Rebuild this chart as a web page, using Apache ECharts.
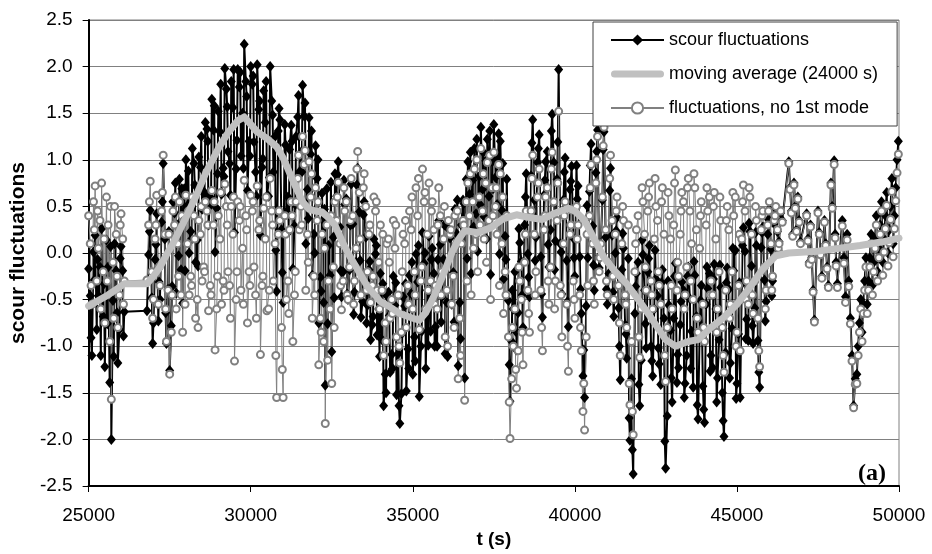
<!DOCTYPE html>
<html>
<head>
<meta charset="utf-8">
<title>scour fluctuations</title>
<script src="https://cdn.jsdelivr.net/npm/echarts@6/dist/echarts.min.js"></script>
<style>
  html, body { margin: 0; padding: 0; background: #fff; }
  #chart { width: 932px; height: 554px; }
</style>
</head>
<body>
<div id="chart"></div>
<script>
// sample times (s), shared by the two fluctuation series
const times = [
  25000, 25100, 25200, 25300, 25400, 25500, 25600, 25700, 25800, 25900, 26000, 26100,
  26800, 26900, 27000, 27100, 27200, 27300, 27400, 27500, 27600, 27700, 27800, 27900, 28000,
  28100, 28200, 28300, 28400, 28500, 28600, 28700, 28800, 28900, 29000, 29100, 29200, 29300,
  29400, 29500, 29600, 29700, 29800, 29900, 30000, 30100, 30200, 30300, 30400, 30500, 30600, 30700,
  30800, 30900, 31000, 31100, 31200, 31300, 31400,
  31500, 31600, 31700, 31800, 31900, 32000, 32100, 32200, 32300, 32400, 32500, 32600,
  32700, 32800, 32900, 33000, 33100, 33200, 33300, 33400, 33500, 33600, 33700, 33800, 33900, 34000,
  34100, 34200, 34300, 34400, 34500, 34600, 34700, 34800, 34900, 35000, 35100, 35200, 35300, 35400, 35500,
  35600, 35700, 35800, 35900, 36000, 36100, 36200, 36300, 36400, 36500, 36600,
  36700, 36800, 36900, 37000, 37100, 37200, 37300, 37400, 37500, 37600, 37700, 37800, 37900,
  38000, 38100, 38200, 38300, 38400, 38500,
  38600, 38700, 38800, 38900, 39000, 39100, 39200, 39300, 39400, 39500, 39600, 39700, 39800, 39900, 40000, 40100, 40200,
  40300, 40400, 40500, 40600, 40700, 40800, 40900, 41000, 41100, 41200,
  41300, 41400, 41500, 41600, 41700, 41800, 41900, 42000, 42100, 42200, 42300, 42400, 42500, 42600, 42700, 42800, 42900,
  43000, 43100, 43200, 43300, 43400, 43500, 43600, 43700, 43800, 43900, 44000, 44100, 44200, 44300, 44400, 44500,
  44600, 44700, 44800, 44900, 45000, 45100, 45200, 45300, 45400, 45500, 45600, 45700, 45800, 45900, 46000, 46100, 46200,
  46300, 46400,
  46600, 46640, 46680, 46720, 46760, 46800, 46840, 46880, 46920, 46960,
  47150, 47190, 47230, 47270, 47310, 47350, 47390,
  47500, 47540, 47580, 47620, 47700, 47740, 47780, 47820, 47900, 47940,
  48000, 48030, 48060, 48100,
  48250, 48300, 48350, 48400, 48450, 48500, 48550, 48600, 48650,
  48700, 48740, 48780, 48820, 48860, 48900, 48940, 48980, 49020, 49060, 49100, 49140,
  49180, 49220, 49260, 49300, 49340, 49380, 49420, 49460, 49500, 49540, 49580, 49620,
  49660, 49700, 49740, 49780, 49820, 49860, 49900, 49940, 49980
]

// scour fluctuations
const scour = [
  -0.17, -1.10, 0.19, -0.46, 0.26, -1.22, -0.15, -2.00, 0.10, -1.18, 0.07, -0.63,
  -0.62, 0.46, -0.75, 0.42, -0.50, 0.96, -0.97, -1.26, 0.55, -0.43, 0.79, -0.54, 1.00,
  0.00, 1.12, -0.10, 1.03, 0.47, 1.40, 0.30, 1.65, 0.01, 1.52, 0.63, 1.98, 1.09,
  1.84, 0.22, 1.97, 1.04, 2.24, 0.67, 2.00, 1.19, 2.02, 0.19, 1.74, 0.61, 2.00, 0.87,
  -0.41, 1.43, -0.53, 0.44, 1.11, -0.17, 1.25,
  0.87, 1.80, 0.10, 1.45, -0.24, 1.15, -0.75, 0.64, -1.42, 0.08, -1.06, 0.85,
  0.98, -0.47, 0.52, -0.50, 0.74, -0.42, 0.91, -0.69, 0.55, -0.56, -0.93, 0.15, -0.88, -0.22,
  -1.64, -0.46, -1.28, -0.25, -1.52, -1.83, -0.47, -1.48, -0.24, -1.30, -0.01, -1.54, 0.22, -1.24, 0.18,
  0.05, -0.79, 0.35, -0.47, -1.08, 0.26, -0.55, 0.47, -1.21, 0.30, -1.34,
  0.98, -0.22, 1.12, 0.02, 1.35, 0.39, 1.22, -0.23, 1.38, 0.52, 1.20, -0.28, 0.79,
  -1.59, -0.60, -1.04, 0.11, -0.80, 0.85,
  -0.47, 1.43, 0.17, 1.27, -0.69, 0.98, -0.15, 1.49, 0.13, 1.97, -0.44, 1.02, -0.79, 0.93, -0.25, 0.72, -0.65,
  -1.55, -0.05, 1.17, -0.40, 1.32, 0.10, 1.30, -0.55, 0.91, -0.68,
  0.38, -1.36, 0.05, -1.13, -2.01, -2.37, -0.22, -1.64, -0.02, -1.02, 0.08, -1.32, -0.28, -1.19, -0.18, -2.31, -0.56,
  -1.60, -0.11, -1.23, -0.31, -1.40, -0.15, -0.84, -0.24, -1.78, -0.35, -1.82, -0.38, -1.10, -0.12, -1.34, -0.37,
  -1.97, -0.16, -1.18, -0.19, -1.40, -1.55, 0.27, -0.71, 0.23, -0.97, 0.08, -1.44, 0.28, -0.52, 0.47, -0.30, 0.47,
  0.12, 0.35,
  0.98, 0.70, 0.45, 0.20, 0.75, 0.50, 0.25, 0.60, 0.35, 0.12,
  0.42, 0.15, -0.10, 0.30, -0.05, -0.40, -0.72,
  0.45, 0.22, 0.00, -0.25, 0.35, 0.10, -0.15, -0.35, 0.75, 0.50,
  0.99, 0.20, -0.10, -0.33,
  0.35, -0.05, -0.47, 0.20, -0.30, -0.70, -1.10, -1.64, -1.35,
  -1.30, -1.00, -0.75, -0.50, -0.85, -0.55, -0.30, -0.05, -0.55, -0.30, -0.05, 0.20,
  -0.35, -0.10, 0.15, 0.40, -0.20, 0.05, 0.30, 0.55, -0.10, 0.15, 0.40, 0.65,
  0.00, 0.25, 0.50, 0.80, 0.10, 0.40, 0.70, 1.00, 1.20
]

// fluctuations, no 1st mode
const noMode = [
  0.40, -0.55, 0.72, 0.05, 0.75, -0.75, 0.30, -1.57, 0.50, -0.80, 0.42, -0.30,
  -0.29, 0.77, -0.50, 0.62, -0.35, 1.05, -0.95, -1.30, 0.45, -0.60, 0.55, -0.85, 0.62,
  -0.45, 0.60, -0.70, 0.35, -0.30, 0.55, -0.62, 0.67, -1.04, 0.40, -0.55, 0.74, -0.20,
  0.50, -1.16, 0.55, -0.40, 0.78, -0.75, 0.62, -0.15, 0.72, -1.09, 0.48, -0.62, 0.80, -0.30,
  -1.55, 0.35, -1.55, -0.50, 0.25, -0.95, 0.55,
  0.25, 1.25, -0.40, 0.98, -0.70, 0.70, -1.20, 0.20, -1.83, -0.30, -1.40, 0.55,
  0.76, -0.61, 0.45, -0.50, 0.80, -0.30, 1.09, -0.45, 0.85, -0.20, -0.53, 0.60, -0.40, 0.30,
  -1.10, 0.10, -0.70, 0.35, -0.90, -1.18, 0.20, -0.80, 0.45, -0.60, 0.70, -0.82, 0.90, -0.60, 0.75,
  0.55, -0.35, 0.70, -0.20, -0.90, 0.35, -0.55, 0.40, -1.35, 0.10, -1.58,
  0.75, -0.45, 0.90, -0.20, 1.12, 0.15, 0.97, -0.50, 1.08, 0.20, 0.85, -0.65, 0.40,
  -1.99, -1.00, -1.45, -0.30, -1.20, 0.45,
  -0.85, 1.05, -0.20, 0.90, -1.05, 0.60, -0.55, 1.08, -0.30, 1.52, -0.90, 0.55, -1.27, 0.46, -0.70, 0.30, -1.05,
  -1.90, -0.35, 0.95, -0.55, 1.25, 0.10, 1.35, -0.45, 1.05, -0.50,
  0.60, -1.10, 0.35, -0.80, -1.63, -1.95, 0.25, -1.12, 0.55, -0.40, 0.75, -0.60, 0.50, -0.35, 0.70, -1.38, 0.40,
  -0.60, 0.89, -0.25, 0.65, -0.45, 0.80, 0.10, 0.70, -0.85, 0.55, -0.95, 0.45, -0.30, 0.65, -0.60, 0.35,
  -1.28, 0.50, -0.55, 0.40, -0.85, -1.05, 0.73, -0.30, 0.60, -0.65, 0.35, -1.22, 0.45, -0.40, 0.55, -0.25, 0.50,
  0.10, 0.33,
  0.96, 0.68, 0.43, 0.18, 0.73, 0.48, 0.23, 0.58, 0.33, 0.10,
  0.40, 0.13, -0.12, 0.28, -0.07, -0.42, -0.74,
  0.43, 0.20, -0.02, -0.27, 0.33, 0.08, -0.17, -0.37, 0.73, 0.48,
  0.95, 0.16, -0.14, -0.37,
  0.29, -0.11, -0.53, 0.14, -0.36, -0.76, -1.16, -1.66, -1.41,
  -1.40, -1.10, -0.85, -0.60, -0.95, -0.65, -0.40, -0.15, -0.65, -0.40, -0.15, 0.10,
  -0.45, -0.20, 0.05, 0.30, -0.30, -0.05, 0.20, 0.45, -0.24, 0.01, 0.26, 0.51,
  -0.14, 0.11, 0.36, 0.66, -0.04, 0.26, 0.56, 0.86, 1.06
]

// extra samples at +50 s (dense part of the record)
const midTimes = [
  25050, 25150, 25250, 25350, 25450, 25550, 25650, 25750, 25850, 25950, 26050,
  26850, 26950, 27050, 27150, 27250, 27350, 27450, 27550, 27650, 27750, 27850, 27950,
  28050, 28150, 28250, 28350, 28450, 28550, 28650, 28750, 28850, 28950, 29050, 29150, 29250,
  29350, 29450, 29550, 29650, 29750, 29850, 29950, 30050, 30150, 30250, 30350, 30450, 30550, 30650, 30750,
  30850, 30950, 31050, 31150, 31250, 31350,
  31450, 31550, 31650, 31750, 31850, 31950, 32050, 32150, 32250, 32350, 32450, 32550,
  32650, 32750, 32850, 32950, 33050, 33150, 33250, 33350, 33450, 33550, 33650, 33750, 33850, 33950,
  34050, 34150, 34250, 34350, 34450, 34550, 34650, 34750, 34850, 34950, 35050, 35150, 35250, 35350, 35450,
  35550, 35650, 35750, 35850, 35950, 36050, 36150, 36250, 36350, 36450, 36550, 36650,
  36750, 36850, 36950, 37050, 37150, 37250, 37350, 37450, 37550, 37650, 37750, 37850,
  37950,
  38050, 38150, 38250, 38350, 38450,
  38550,
  38650, 38750, 38850, 38950, 39050, 39150, 39250, 39350, 39450, 39550, 39650, 39750, 39850, 39950, 40050, 40150,
  40250,
  40350, 40450, 40550, 40650, 40750, 40850, 40950, 41050, 41150,
  41250,
  41350, 41450, 41550, 41650, 41750, 41850, 41950, 42050, 42150, 42250, 42350, 42450, 42550, 42650, 42750, 42850,
  42950,
  43050, 43150, 43250, 43350, 43450, 43550, 43650, 43750, 43850, 43950, 44050, 44150, 44250, 44350, 44450,
  44550,
  44650, 44750, 44850, 44950, 45050, 45150, 45250, 45350, 45450, 45550, 45650, 45750, 45850, 45950, 46050, 46150,
  46250, 46350
]
const midScour = [
  -0.46, 0.01, -0.82, -0.15, -0.68, 0.14, -1.39, -0.51, -0.19, -0.82, -0.19,
  -0.02, -0.48, -0.07, -0.73, 0.33, 0.15, -0.39, -0.78, 0.43, 0.30, -0.18, 0.69,
  0.51, 0.23, 0.96, 0.14, 0.92, 0.66, 1.33, 0.60, 1.32, 0.48, 1.30, 0.91, 1.76,
  0.96, 1.56, 0.90, 1.78, 1.50, 1.84, 1.20, 1.81, 0.87, 1.54, 0.92, 1.40, 0.61, 1.63, 1.25,
  1.31, 0.25, 1.38, 0.60, 1.37, 0.29,
  1.46, 1.08, 1.47, 0.68, 1.06, 0.20, 0.80, -0.26, -0.53, 0.69, -0.24, 0.17,
  0.61, 0.28, -0.20, 0.58, -0.18, 0.31, -0.10, 0.44, -0.52, 0.17, -0.18, -0.77, -0.01, -0.60,
  -0.93, -1.30, -0.42, -1.09, -0.56, -1.08, -1.51, -0.57, -1.03, -0.44, -0.90, -0.31, -1.00, -0.11, -0.40,
  -0.84, -0.22, -1.00, 0.09, -0.07, -0.53, 0.16, -0.21, 0.21, -0.53, 0.57, 0.79,
  0.63, 0.78, 0.42, 0.82, 0.68, 0.99, 0.61, 0.98, 0.81, 1.28, 0.46, 0.18,
  -0.51,
  -0.95, -0.20, -0.64, -0.09, 0.30,
  -0.01,
  0.83, 0.57, 0.97, -0.04, 0.62, 1.09, 0.25, 0.97, 0.79, 0.10, 0.57, -0.08, 0.68, 0.16, 0.94, -0.04,
  -1.32,
  -0.57, 0.66, 0.29, 0.86, -0.16, 0.57, 0.17, -0.22, 0.19,
  0.00,
  -0.59, -0.18, -0.77, -0.06, -1.35, -0.65, -0.10, -1.15, -0.40, -0.20, -1.00, -0.60, -0.46, -1.41, -0.70, -1.75,
  -0.83,
  -0.70, -1.39, -0.77, -0.40, -1.10, -0.49, -1.44, -0.68, -0.86, -1.43, -0.55, -0.22, -1.23, -0.60, -0.93,
  -1.50,
  -1.07, -0.39, -0.81, 0.03, -0.87, -0.33, 0.02, -0.94, -0.14, -0.59, -0.94, 0.06, -0.29, 0.20, 0.04, 0.31,
  0.23, 0.43
]
const midNoMode = [
  0.10, 0.55, -0.30, 0.35, -0.20, 0.60, -0.95, -0.10, 0.20, -0.45, 0.15,
  0.30, -0.20, 0.15, -0.55, 0.45, 0.20, -0.40, -0.85, 0.30, 0.10, -0.45, 0.35,
  0.10, -0.25, 0.40, -0.50, 0.20, -0.15, 0.45, -0.35, 0.30, -0.60, 0.15, -0.30, 0.50,
  -0.35, 0.20, -0.50, 0.35, 0.05, 0.40, -0.20, 0.45, -0.45, 0.25, -0.35, 0.15, -0.60, 0.45, 0.10,
  0.20, -0.80, 0.40, -0.30, 0.55, -0.45,
  0.80, 0.50, 0.95, 0.20, 0.60, -0.25, 0.35, -0.70, -0.95, 0.30, -0.60, -0.15,
  0.35, 0.10, -0.30, 0.55, -0.15, 0.40, 0.05, 0.65, -0.25, 0.50, 0.20, -0.35, 0.45, -0.10,
  -0.40, -0.75, 0.15, -0.50, 0.05, -0.45, -0.85, 0.10, -0.35, 0.25, -0.20, 0.40, -0.30, 0.55, 0.20,
  -0.30, 0.25, -0.60, 0.40, 0.15, -0.40, 0.20, -0.25, 0.10, -0.70, 0.35, 0.55,
  0.40, 0.55, 0.20, 0.60, 0.45, 0.75, 0.35, 0.70, 0.50, 0.95, 0.10, -0.20,
  -0.90,
  -1.35, -0.60, -1.05, -0.50, -0.10,
  -0.40,
  0.45, 0.20, 0.60, -0.40, 0.25, 0.70, -0.15, 0.55, 0.35, -0.35, 0.10, -0.55, 0.20, -0.30, 0.50, -0.45,
  -1.70,
  -0.90, 0.40, 0.10, 0.75, -0.20, 0.60, 0.25, -0.10, 0.35,
  0.20,
  -0.35, 0.10, -0.45, 0.30, -0.95, -0.20, 0.40, -0.60, 0.20, 0.45, -0.30, 0.15, 0.35, -0.55, 0.20, -0.80,
  0.15,
  0.30, -0.40, 0.20, 0.55, -0.15, 0.45, -0.50, 0.25, 0.05, -0.55, 0.30, 0.60, -0.45, 0.15, -0.20,
  -0.80,
  -0.40, 0.25, -0.20, 0.60, -0.35, 0.15, 0.45, -0.55, 0.20, -0.30, -0.70, 0.25, -0.15, 0.30, 0.10, 0.35,
  0.25, 0.45
]

// extra samples at +75 s (dense part of the record)
const qTimes = [
  25075, 25175, 25275, 25375, 25475, 25575, 25675, 25775, 25875, 25975, 26075,
  26875, 26975, 27075, 27175, 27275, 27375, 27475, 27575, 27675, 27775, 27875, 27975,
  28075, 28175, 28275, 28375, 28475, 28575, 28675, 28775, 28875, 28975,
  29075, 29175, 29275, 29375, 29475, 29575, 29675, 29775, 29875, 29975,
  30075, 30175, 30275, 30375, 30475, 30575, 30675, 30775, 30875, 30975,
  31075, 31175, 31275, 31375, 31475, 31575, 31675, 31775, 31875, 31975,
  32075, 32175, 32275, 32375, 32475, 32575, 32675, 32775, 32875, 32975,
  33075, 33175, 33275, 33375, 33475, 33575, 33675, 33775, 33875, 33975,
  34075, 34175, 34275, 34375, 34475, 34575, 34675, 34775, 34875, 34975,
  35075, 35175, 35275, 35375, 35475, 35575, 35675, 35775, 35875, 35975,
  36075, 36175, 36275, 36375, 36475, 36575, 36675, 36775, 36875, 36975,
  37075, 37175, 37275, 37375, 37475, 37575, 37675, 37775, 37875, 37975,
  38075, 38175, 38275, 38375, 38475, 38575, 38675, 38775, 38875, 38975,
  39075, 39175, 39275, 39375, 39475, 39575, 39675, 39775, 39875, 39975,
  40075, 40175, 40275, 40375, 40475, 40575, 40675, 40775, 40875, 40975,
  41075, 41175, 41275, 41375, 41475, 41575, 41675, 41775, 41875, 41975,
  42075, 42175, 42275, 42375, 42475, 42575, 42675, 42775, 42875, 42975,
  43075, 43175, 43275, 43375, 43475, 43575, 43675, 43775, 43875, 43975,
  44075, 44175, 44275, 44375, 44475, 44575, 44675, 44775, 44875, 44975,
  45075, 45175, 45275, 45375, 45475, 45575, 45675, 45775, 45875, 45975,
  46075, 46175, 46275
]
const qScour = [
  -0.91, -0.29, -0.07, -1.10, -0.33, -0.76, 0.07, -1.11, -0.64, -0.06, -0.89,
  0.23, -0.97, 0.09, -0.31, 0.55, -0.64, 0.23, -0.36, 0.75, -0.03, 0.69, -0.19,
  0.88, 0.15, 0.73, -0.14, 1.25, 0.63, 1.20, 0.52, 1.58, 0.85,
  1.81, 0.82, 1.57, 0.62, 1.97, 1.21, 1.94, 0.91, 1.68, 1.04,
  1.90, 0.61, 1.63, 1.01, 1.84, 0.81, 1.48, 0.03, 1.55, -0.21,
  1.16, 0.23, 1.20, 0.52, 1.69, 0.87, 1.61, 0.37, 1.31, 0.00,
  1.00, -0.41, 0.47, -0.76, 0.76, -0.48, 0.84, -0.19, 0.78, -0.44,
  0.30, -0.66, 0.73, -0.08, 0.41, -0.75, -0.09, -0.68, 0.08, -1.11,
  -0.33, -1.50, -0.67, -1.24, -0.32, -1.64, -0.86, -0.33, -1.24, -0.10,
  -1.16, 0.08, -0.84, 0.00, -0.99, -0.07, -1.00, -0.07, -0.74, 0.30,
  -1.11, 0.23, -0.74, 0.57, -0.92, 0.53, -0.06, 1.08, 0.28, 1.22,
  0.52, 1.08, 0.15, 1.31, 0.69, 1.02, -0.01, 0.96, -0.07, -1.20,
  -0.40, -0.84, 0.26, -0.45, 0.60, -0.26, 1.18, -0.08, 1.12, -0.44,
  0.78, 0.09, 1.31, -0.18, 1.19, 0.01, 0.87, -0.52, 0.77, -0.05,
  0.58, -0.39, -1.04, 0.51, 0.94, -0.13, 1.09, -0.03, 1.11, -0.39,
  0.67, -0.42, 0.24, -1.00, 0.21, -0.87, -1.77, -2.11, -0.36, -1.41,
  0.14, -0.76, -0.06, -1.16, 0.03, -1.02, -0.32, -2.02, -0.30, -1.34,
  -0.25, -1.09, -0.52, -1.55, -0.25, -1.24, -0.09, -1.63, -0.51, -1.68,
  -0.15, -1.27, -0.28, -1.60, -0.13, -1.80, -0.32, -1.34, 0.05, -1.56,
  -0.32, 0.08, -0.92, 0.32, -0.78, 0.22, -1.28, 0.22, -0.73, 0.36,
  -0.46, 0.36, 0.03
]
const qNoMode = [
  -0.35, 0.25, 0.45, -0.60, 0.15, -0.30, 0.50, -0.70, -0.25, 0.30, -0.55,
  0.55, -0.70, 0.30, -0.15, 0.65, -0.60, 0.20, -0.45, 0.60, -0.25, 0.40, -0.55,
  0.45, -0.35, 0.15, -0.80, 0.50, -0.20, 0.30, -0.45, 0.55, -0.25,
  0.65, -0.40, 0.30, -0.70, 0.60, -0.20, 0.50, -0.55, 0.25, -0.35,
  0.55, -0.70, 0.35, -0.25, 0.60, -0.40, 0.30, -1.10, 0.45, -1.25,
  0.20, -0.65, 0.40, -0.20, 1.05, 0.30, 1.10, -0.10, 0.85, -0.45,
  0.55, -0.85, 0.05, -1.15, 0.40, -0.80, 0.60, -0.35, 0.70, -0.45,
  0.35, -0.55, 0.90, 0.15, 0.70, -0.40, 0.30, -0.25, 0.55, -0.60,
  0.20, -0.95, -0.10, -0.65, 0.30, -1.00, -0.20, 0.35, -0.55, 0.60,
  -0.45, 0.80, -0.15, 0.65, -0.40, 0.45, -0.55, 0.30, -0.45, 0.50,
  -1.00, 0.25, -0.80, 0.45, -1.10, 0.30, -0.30, 0.85, 0.05, 1.00,
  0.30, 0.85, -0.10, 1.05, 0.40, 0.70, -0.35, 0.60, -0.45, -1.60,
  -0.80, -1.25, -0.15, -0.85, 0.20, -0.65, 0.80, -0.45, 0.75, -0.80,
  0.40, -0.30, 0.90, -0.60, 0.75, -0.45, 0.40, -1.00, 0.30, -0.50,
  0.15, -0.80, -1.40, 0.20, 0.70, -0.30, 1.00, -0.05, 1.15, -0.30,
  0.80, -0.25, 0.45, -0.75, 0.50, -0.55, -1.40, -1.70, 0.10, -0.90,
  0.70, -0.15, 0.60, -0.45, 0.80, -0.20, 0.55, -1.10, 0.65, -0.35,
  0.75, -0.10, 0.45, -0.60, 0.70, -0.30, 0.85, -0.70, 0.40, -0.80,
  0.70, -0.45, 0.50, -0.85, 0.60, -1.10, 0.35, -0.70, 0.65, -1.00,
  0.20, 0.55, -0.50, 0.70, -0.45, 0.50, -1.05, 0.40, -0.60, 0.45,
  -0.40, 0.40, 0.05
]

// moving average (24000 s)
const avgTimes = [
  25000, 25300, 25600, 25900, 26100, 26800, 27000, 27200, 27400, 27600, 27800, 28000,
  28300, 28600, 29000, 29300, 29600, 29800, 30000, 30200, 30500, 30800, 31000, 31200, 31400,
  31600, 31800, 32000, 32200, 32400, 32600, 32800, 33000, 33300, 33600, 34000, 34300, 34600,
  35000, 35200, 35400, 35600, 35800, 36000, 36200, 36400, 36600, 37000, 37400, 37800,
  38200, 38600, 39000, 39400, 39800, 40000, 40300, 40600, 40900, 41200, 41600, 42000,
  42400, 42800, 43100, 43500, 43800, 44200, 44600, 45000, 45400, 45800, 46200, 46600,
  47500, 48800, 49500, 50000
]
const avgValues = [
  -0.57, -0.51, -0.45, -0.38, -0.33, -0.33, -0.25, -0.15, -0.02, 0.10, 0.24, 0.38,
  0.60, 0.85, 1.12, 1.29, 1.42, 1.46, 1.38, 1.30, 1.23, 1.14, 1.02, 0.86, 0.70,
  0.55, 0.47, 0.45, 0.44, 0.38, 0.30, 0.14, 0.00, -0.18, -0.36, -0.52, -0.58, -0.65,
  -0.70, -0.72, -0.64, -0.50, -0.35, -0.18, 0.00, 0.14, 0.24, 0.22, 0.27, 0.37,
  0.41, 0.38, 0.36, 0.43, 0.48, 0.45, 0.35, 0.15, -0.05, -0.18, -0.33, -0.52,
  -0.72, -0.93, -1.00, -0.95, -0.93, -0.80, -0.69, -0.55, -0.37, -0.17, -0.03, 0.00,
  0.02, 0.08, 0.12, 0.16
]

const seriesNames = ['scour fluctuations', 'moving average (24000 s)', 'fluctuations, no 1st mode']

// pair times with values for every sample set, then sort by time
function toPoints (sets) {
  let pts = []
  sets.forEach(([ts, vs]) => {
    pts = pts.concat(ts.map((t, i) => [t, vs[i]]))
  })
  return pts.sort((a, b) => a[0] - b[0])
}

const chart = echarts.init(document.getElementById('chart'))
const font = 'Liberation Sans, Arial, sans-serif'

const option = {
  animation: false,
  backgroundColor: '#fff',
  grid: {
    left: 88,
    right: 33,
    top: 20,
    bottom: 63,
    show: true,
    borderColor: '#808080',
    borderWidth: 1
  },
  legend: {
    data: [
      seriesNames[0],
      {
        name: seriesNames[1],
        icon: 'path://M3.5,0 L49.5,0 A3.5,3.5 0 0 1 49.5,7 L3.5,7 A3.5,3.5 0 0 1 3.5,0 Z',
        itemStyle: { color: '#c0c0c0' }
      },
      seriesNames[2]
    ],
    orient: 'vertical',
    left: 593,
    top: 22,
    itemWidth: 53,
    itemHeight: 14,
    itemGap: 16,
    symbolKeepAspect: true,
    padding: [9, 19, 9, 17],
    backgroundColor: '#fff',
    borderColor: '#404040',
    borderWidth: 1,
    z: 10,
    textStyle: { fontFamily: font, fontSize: 18, color: '#000' }
  },
  xAxis: {
    type: 'value',
    min: 25000,
    max: 50000,
    interval: 5000,
    name: 't (s)',
    nameLocation: 'middle',
    nameGap: 44,
    nameTextStyle: { fontFamily: font, fontSize: 19, fontWeight: 'bold', color: '#000' },
    axisLine: { onZero: false, lineStyle: { color: '#000', width: 2 } },
    axisTick: { length: 6, lineStyle: { color: '#000', width: 1 } },
    axisLabel: { fontFamily: font, fontSize: 19, color: '#000', margin: 20, formatter: v => String(v) },
    splitLine: { show: false }
  },
  yAxis: {
    type: 'value',
    min: -2.5,
    max: 2.5,
    interval: 0.5,
    name: 'scour fluctuations',
    nameLocation: 'middle',
    nameGap: 58,
    nameTextStyle: { fontFamily: font, fontSize: 21, fontWeight: 'bold', color: '#000' },
    axisLine: { show: true, onZero: false, lineStyle: { color: '#000', width: 2 } },
    axisTick: { show: true, length: 6, lineStyle: { color: '#000', width: 1 } },
    axisLabel: {
      fontFamily: font,
      fontSize: 19,
      color: '#000',
      margin: 16,
      formatter: v => v.toFixed(1)
    },
    splitLine: { lineStyle: { color: '#808080', width: 1 } }
  },
  series: [
    {
      name: seriesNames[0],
      type: 'line',
      data: toPoints([[times, scour], [midTimes, midScour], [qTimes, qScour]]),
      symbol: 'diamond',
      symbolSize: [9, 11],
      itemStyle: { color: '#000' },
      lineStyle: { color: '#000', width: 2 },
      z: 2
    },
    {
      name: seriesNames[2],
      type: 'line',
      data: toPoints([[times, noMode], [midTimes, midNoMode], [qTimes, qNoMode]]),
      symbol: 'emptyCircle',
      symbolSize: 7,
      itemStyle: { color: '#808080', borderWidth: 2.6 },
      lineStyle: { color: '#808080', width: 1 },
      z: 2
    },
    {
      name: seriesNames[1],
      type: 'line',
      data: avgTimes.map((t, i) => [t, avgValues[i]]),
      symbol: 'none',
      itemStyle: { color: '#c0c0c0' },
      lineStyle: { color: '#c0c0c0', width: 7, cap: 'round', join: 'round' },
      z: 3
    }
  ],
  graphic: [
    {
      type: 'text',
      left: 858,
      top: 462,
      style: {
        text: '(a)',
        font: 'bold 24px "Liberation Serif", "Times New Roman", serif',
        fill: '#000'
      }
    }
  ]
}

chart.setOption(option)
</script>
</body>
</html>
